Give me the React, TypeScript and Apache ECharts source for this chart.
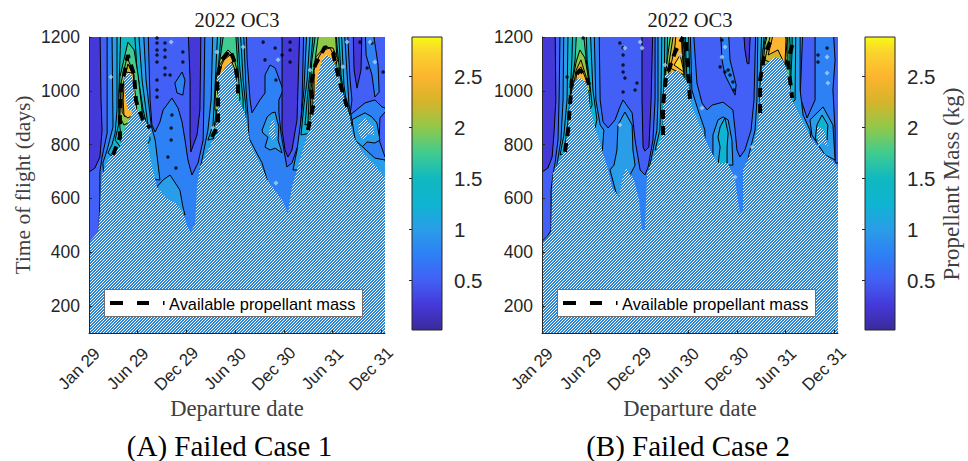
import React, { useEffect, useRef } from "react";
import * as echarts from "echarts";

type P = number[][];

const X_TICKS = [0, 182.6, 365.2, 547.8, 730.4, 913, 1095.6];
const X_LABELS = ["Jan 29", "Jun 29", "Dec 29", "Jun 30", "Dec 30", "Jun 31", "Dec 31"];
const Y_TICKS = [200, 400, 600, 800, 1000, 1200];
const CB_TICKS = [0.5, 1, 1.5, 2, 2.5];
const CB_VALUES = [0.01, 0.25, 0.5, 0.75, 1, 1.25, 1.5, 1.75, 2, 2.25, 2.5, 2.75, 2.89];
const CB_COLORS = ["#3a2a9a", "#4538d8", "#4260f5", "#2e80f5", "#2a9de8", "#0fb4d2", "#10b8c0", "#40cc90", "#90c84a", "#d5b42a", "#fdb42f", "#fad52d", "#f8fa14"];

const DARK = 0.25, MID = 0.5, BLUE = 0.75, LIGHT = 1, CYAN = 1.25, TEAL = 1.5, GREEN = 1.75, OLIVE = 2, GOLD = 2.25, ORANGE = 2.5, YELLOW = 2.75;
const HATCH = -1;

const BASE: P = [[-20, 1250], [1140, 1250], [1140, 40], [-20, 40]];

// Panel A: regions in [departure day, time of flight]
const A_HATCH: P = [[-15,435],[0,435],[34,475],[41,557],[45,631],[49,687],[71,743],[90,762],[116,791],[128,843],[150,892],[165,925],[146,929],[135,984],[131,1048],[146,1066],[161,1059],[169,1003],[172,936],[184,929],[203,899],[221,873],[236,843],[218,817],[229,754],[240,706],[255,643],[292,598],[322,587],[352,550],[368,501],[379,475],[398,501],[405,643],[416,717],[461,810],[484,847],[476,866],[484,929],[484,1022],[480,1051],[499,1070],[518,1096],[529,1107],[540,1089],[555,1029],[559,973],[585,918],[596,854],[604,806],[641,732],[668,669],[724,594],[746,546],[761,643],[791,743],[821,843],[836,918],[848,992],[859,1059],[874,1115],[892,1133],[915,1115],[930,1077],[941,1029],[960,966],[971,921],[979,903],[986,843],[1009,799],[1028,769],[1072,724],[1110,676],[1129,676],[1129,50],[-15,50]];
const A_M1: P = [[-15,1250],[68,1250],[68,843],[49,754],[41,698],[41,594],[37,475],[4,427],[-15,427]];
const A_D1: P = [[-15,1250],[41,1250],[45,966],[49,854],[41,754],[22,713],[0,698],[-15,698]];
const A_M2: P = [[221,1250],[229,966],[236,873],[248,847],[266,884],[278,929],[311,973],[334,936],[349,884],[360,817],[371,743],[386,687],[409,732],[428,817],[431,966],[435,1250]];
const A_D2: P = [[371,1250],[379,1040],[379,836],[382,773],[405,836],[416,929],[420,1250]];
const A_M3: P = [[589,1250],[593,1115],[604,966],[611,918],[641,966],[660,992],[660,1059],[679,1096],[698,1085],[728,1003],[712,966],[712,918],[720,843],[731,780],[742,717],[761,732],[791,817],[799,966],[806,1250]];
const A_D3: P = [[724,1250],[724,854],[735,780],[746,754],[761,780],[780,892],[791,1250]];
const A_M4: P = [[968,1250],[979,1040],[986,966],[979,910],[1035,955],[1072,966],[1099,940],[1129,929],[1129,1250]];
const A_D4: P = [[990,1250],[994,1077],[1005,1010],[1020,1077],[1024,1250]];
const A_STRIP: P = [[1035,1250],[1039,1133],[1061,1059],[1072,977],[1088,995],[1084,1096],[1061,1250]];
const A_M5: P = [[1110,921],[1091,899],[1088,817],[1110,754],[1136,754],[1136,921]];
const A_RING: P = [[322,1029],[349,1070],[360,1040],[352,984],[330,992]];
const A_BLOB1: P = [[304,687],[278,669],[255,643],[266,594],[360,539],[352,569],[341,631]];
const A_BLOB2: P = [[585,854],[623,780],[649,732],[668,669],[640,700],[590,800]];
const A_BLOB3: P = [[668,903],[686,918],[698,921],[705,892],[712,866],[709,817],[724,769],[698,787],[679,780],[660,791],[671,828],[652,843],[649,854]];
const A_BLOB4: P = [[986,892],[1005,903],[1035,918],[1061,903],[1080,880],[1091,817],[1072,806],[1043,810],[1024,791],[998,817],[990,847]];
const A_BLOB5: P = [[998,817],[1072,750],[1110,743],[1129,650],[1035,706]];
const A_PATCH1: P = [[679,873],[690,895],[700,870],[694,850],[705,830],[690,815],[675,840]];
const A_PATCH2: P = [[1012,880],[1035,900],[1050,880],[1065,870],[1070,835],[1045,840],[1030,815],[1010,840]];
const A_P1L: P = [[86,1250],[90,866],[68,780],[52,732],[56,680],[266,669],[248,817],[233,873],[214,1040],[203,1250]];
const A_P1C: P = [[105,1250],[105,929],[98,843],[86,799],[71,769],[154,706],[229,817],[221,873],[199,1040],[184,1250]];
const A_P1T: P = [[120,1250],[112,992],[112,880],[98,817],[154,743],[221,854],[203,929],[180,1077],[169,1250]];
const A_P1G: P = [[146,1181],[116,1051],[112,966],[116,866],[124,780],[191,854],[203,892],[184,1059],[169,1152]];
const A_P1Y: P = [[143,1126],[120,1029],[116,903],[131,873],[172,892],[169,1059]];
const A_P1O: P = [[146,1100],[124,1003],[124,921],[135,903],[172,921],[165,1059]];
const A_P1R: P = [[135,1070],[128,966],[131,910],[146,899],[180,921],[172,1003],[165,1066]];
const A_P2L: P = [[465,1250],[458,966],[446,854],[431,780],[416,706],[604,706],[596,910],[589,1003],[578,1250]];
const A_P2C: P = [[484,1250],[472,1003],[465,873],[446,817],[585,854],[589,929],[578,1040],[566,1250]];
const A_P2T: P = [[499,1250],[484,1077],[476,910],[465,836],[578,892],[578,966],[566,1077],[555,1250]];
const A_P2G: P = [[510,1250],[491,1115],[480,1003],[476,873],[566,966],[559,1077],[548,1250]];
const A_P2Y: P = [[521,1152],[491,1115],[476,1040],[472,929],[548,929],[555,1077],[540,1133]];
const A_P2O: P = [[521,1144],[488,1092],[476,1040],[484,984],[536,1003],[548,1077]];
const A_P2R: P = [[484,1066],[506,1115],[529,1133],[544,1115],[529,1100],[499,1065],[484,1040]];
const A_P3L: P = [[818,1250],[806,1003],[795,892],[780,780],[765,706],[1016,706],[986,892],[975,947],[956,1250]];
const A_P3C: P = [[832,1250],[818,1040],[806,947],[795,836],[986,873],[964,966],[956,1022],[945,1250]];
const A_P3T: P = [[844,1250],[829,1077],[818,966],[810,873],[979,910],[956,984],[945,1059],[934,1250]];
const A_P3G: P = [[855,1250],[836,1115],[825,966],[821,873],[960,947],[941,1059],[922,1250]];
const A_P3Y: P = [[866,1250],[848,1115],[832,1003],[829,892],[904,966],[930,1115],[922,1250]];
const A_P3O: P = [[885,1163],[851,1126],[840,1040],[836,940],[885,1059],[934,1115],[915,1159]];
const A_P3R: P = [[844,966],[844,1077],[862,1126],[878,1152],[904,1159],[926,1115],[874,1077],[859,984]];
const A_AVAILABLE: (number[] | null[])[] = [[90,762],[116,828],[116,903],[120,1003],[146,1133],[169,1059],[176,966],[184,936],[203,892],[229,862],[null,null],[461,828],[484,873],[484,966],[480,1051],[499,1115],[529,1152],[548,1103],[559,1029],[559,973],[null,null],[821,854],[840,940],[832,1022],[848,1096],[885,1163],[915,1141],[941,1029],[968,940]];
const A_SPOTS: P = [[255,1196],[255,1178],[255,1152],[255,1133],[255,1107],[255,1040],[285,1178],[285,1152],[285,1126],[285,1085],[285,1060],[255,1003],[255,977],[304,1059],[311,910],[308,862],[308,817],[296,754],[326,713],[352,1144],[352,1107],[653,1181],[660,1115],[698,1159],[724,1133],[754,1181],[754,1152],[754,1107],[701,1040],[1043,1085],[1061,1178],[1016,1181],[1103,1070]];
const A_SPECKS: P = [[308,1181],[82,1051],[172,1010],[480,1144],[578,1163],[709,1115],[952,1089],[968,1181],[1072,1107],[1054,1181],[701,657],[829,1077],[465,862]];

// Panel B
const B_HATCH: P = [[-15,435],[0,435],[34,472],[41,695],[86,780],[98,866],[105,966],[124,1040],[142,1048],[169,1029],[180,940],[199,866],[248,706],[262,643],[289,605],[300,669],[315,713],[345,669],[364,594],[375,483],[386,483],[394,695],[454,843],[454,940],[461,1059],[510,1077],[548,1029],[562,940],[592,873],[630,780],[660,732],[698,732],[724,669],[742,546],[754,550],[754,706],[791,791],[810,866],[825,1089],[874,1126],[904,1115],[922,1066],[938,966],[968,903],[1005,828],[1054,769],[1099,732],[1110,706],[1125,706],[1125,50],[-15,50]];
const B_M1: P = [[-15,1250],[68,1250],[64,966],[60,817],[49,732],[41,687],[34,631],[34,483],[22,461],[-15,427]];
const B_D1: P = [[-15,1250],[49,1250],[52,966],[45,843],[38,754],[22,713],[0,698],[-15,698]];
const B_M2: P = [[214,1250],[218,966],[229,884],[248,862],[274,892],[292,940],[304,966],[338,918],[349,817],[368,706],[386,687],[398,717],[416,817],[424,966],[424,1250]];
const B_D2: P = [[375,1250],[375,966],[379,791],[386,776],[401,791],[409,966],[416,1250]];
const B_BLOB1: P = [[311,921],[285,873],[281,780],[270,724],[255,706],[285,594],[330,687],[349,724],[341,780],[338,873]];
const B_M3: P = [[566,1250],[581,1029],[600,955],[619,929],[638,947],[679,958],[716,929],[724,854],[731,780],[742,754],[761,780],[784,854],[795,966],[802,1250]];
const B_D3: P = [[754,1250],[761,1152],[769,1103],[776,1100],[780,1189],[784,1250]];
const B_STRIP: P = [[668,1250],[675,1115],[686,1059],[724,984],[728,1022],[705,1115],[698,1250]];
const B_BLOB2: P = [[641,754],[641,836],[660,892],[679,903],[698,892],[712,817],[716,724],[641,724]];
const B_TEAL1: P = [[668,866],[686,899],[698,843],[694,791],[694,724],[660,724],[668,791],[660,828]];
const B_M4: P = [[979,1250],[968,977],[994,899],[1024,966],[1024,1250]];
const B_BLOB3: P = [[1005,892],[1054,940],[1091,873],[1099,743],[1061,762],[1012,836]];
const B_TEAL2: P = [[1050,910],[1031,873],[1024,817],[1069,817],[1072,873]];
const B_PATCH: P = [[1031,866],[1048,862],[1061,850],[1072,791],[1050,810],[1035,791]];
const B_M5: P = [[1091,1250],[1099,1115],[1091,1003],[1099,854],[1099,732],[1125,732],[1125,1250]];
const B_P1L: P = [[82,1250],[79,966],[71,817],[56,724],[45,676],[218,669],[232,854],[218,873],[202,966],[195,1250]];
const B_P1C: P = [[98,1250],[94,966],[82,836],[68,762],[180,780],[206,892],[191,1003],[180,1250]];
const B_P1T: P = [[116,1250],[112,1115],[105,966],[94,854],[86,799],[161,892],[188,947],[169,1115],[165,1250]];
const B_P1G: P = [[131,1250],[124,1115],[109,1003],[101,873],[180,929],[172,1059],[158,1189],[154,1250]];
const B_P1Y: P = [[142,1152],[128,1107],[112,1022],[105,892],[131,966],[180,1003],[169,1077],[161,1122]];
const B_P1O: P = [[146,1115],[128,1077],[116,1003],[109,947],[161,1022],[169,1040]];
const B_P1R: P = [[146,1089],[131,1070],[124,1022],[158,1033],[169,1033]];
const B_P2L: P = [[435,1250],[435,966],[431,854],[405,724],[394,676],[611,669],[611,854],[585,929],[562,1003],[555,1250]];
const B_P2C: P = [[450,1250],[446,966],[442,854],[424,780],[555,854],[555,1040],[548,1250]];
const B_P2T: P = [[461,1250],[458,1003],[454,873],[518,892],[548,966],[540,1115],[536,1250]];
const B_P2G: P = [[472,1250],[469,1115],[458,1040],[454,910],[536,1003],[536,1115],[529,1250]];
const B_P2Y: P = [[488,1250],[472,1133],[461,1040],[480,966],[532,1022],[532,1152],[525,1250]];
const B_P2O: P = [[499,1250],[484,1152],[472,1077],[488,1022],[532,1077],[525,1189],[521,1250]];
const B_P2R: P = [[506,1250],[499,1170],[488,1115],[480,1085],[532,1059],[525,1152],[521,1250]];
const B_P2W: P = [[518,1133],[495,1096],[532,1070]];
const B_P3L: P = [[810,1250],[806,966],[799,854],[780,780],[761,698],[1012,780],[1005,854],[979,910],[968,1003],[968,1250]];
const B_P3C: P = [[825,1250],[818,1040],[814,854],[949,966],[952,1250]];
const B_P3T: P = [[836,1250],[825,1096],[821,947],[930,984],[938,1152],[938,1250]];
const B_P3G: P = [[848,1250],[829,1152],[821,1022],[930,1003],[930,1170],[926,1250]];
const B_P3Y: P = [[855,1250],[836,1170],[829,1096],[922,1115],[922,1250]];
const B_P3O: P = [[866,1250],[848,1170],[836,1115],[911,1077],[919,1189],[915,1250]];
const B_P3R: P = [[874,1250],[862,1189],[848,1133],[885,1152],[911,1096],[915,1189],[908,1250]];
const B_AVAILABLE: (number[] | null[])[] = [[86,773],[98,854],[105,947],[112,1040],[142,1077],[169,1051],[176,1022],[null,null],[454,836],[454,947],[465,1048],[499,1144],[529,1200],[null,null],[540,1181],[548,1077],[555,966],[null,null],[818,918],[818,1040],[832,1126],[855,1181],[null,null],[938,1170],[922,1107],[930,1040],[938,973]];
const B_SPOTS: P = [[356,1029],[304,996],[311,1048],[349,1003],[292,1178],[304,1133],[304,1096],[304,1160],[304,1070],[154,1196],[94,1051],[668,1089],[686,1070],[705,1059],[716,1033],[698,1077],[720,1003],[1035,1133],[1035,1107],[675,1189],[1069,1159]];
const B_SPECKS: P = [[311,1159],[368,1181],[375,1159],[292,873],[105,977],[461,1096],[518,1133],[600,936],[675,1126],[686,1163],[1069,1066],[1072,1029],[1069,1126],[788,791],[724,680]];

const A_LAYERS: [number, P][] = [
  [BLUE, BASE], [MID, A_M1], [DARK, A_D1], [MID, A_M2], [DARK, A_D2], [MID, A_M3], [DARK, A_D3], [MID, A_M4], [DARK, A_D4],
  [BLUE, A_STRIP], [MID, A_M5], [BLUE, A_RING], [LIGHT, A_BLOB1], [LIGHT, A_BLOB2], [LIGHT, A_BLOB3], [LIGHT, A_BLOB4], [LIGHT, A_BLOB5],
  [LIGHT, A_P1L], [CYAN, A_P1C], [TEAL, A_P1T], [GREEN, A_P1G], [OLIVE, A_P1Y], [GOLD, A_P1O], [ORANGE, A_P1R],
  [LIGHT, A_P2L], [CYAN, A_P2C], [TEAL, A_P2T], [GREEN, A_P2G], [OLIVE, A_P2Y], [GOLD, A_P2O], [ORANGE, A_P2R],
  [LIGHT, A_P3L], [CYAN, A_P3C], [TEAL, A_P3T], [GREEN, A_P3G], [OLIVE, A_P3Y], [GOLD, A_P3O], [ORANGE, A_P3R],
  [HATCH, A_PATCH1], [HATCH, A_PATCH2], [HATCH, A_HATCH],
];
const B_LAYERS: [number, P][] = [
  [BLUE, BASE], [MID, B_M1], [DARK, B_D1], [MID, B_M2], [DARK, B_D2], [MID, B_M3], [DARK, B_D3], [BLUE, B_STRIP], [MID, B_M4], [MID, B_M5],
  [LIGHT, B_BLOB1], [LIGHT, B_BLOB2], [CYAN, B_TEAL1], [LIGHT, B_BLOB3], [CYAN, B_TEAL2],
  [LIGHT, B_P1L], [CYAN, B_P1C], [TEAL, B_P1T], [GREEN, B_P1G], [OLIVE, B_P1Y], [GOLD, B_P1O], [ORANGE, B_P1R],
  [LIGHT, B_P2L], [CYAN, B_P2C], [TEAL, B_P2T], [GREEN, B_P2G], [OLIVE, B_P2Y], [GOLD, B_P2O], [ORANGE, B_P2R], [YELLOW, B_P2W],
  [LIGHT, B_P3L], [CYAN, B_P3C], [TEAL, B_P3T], [GREEN, B_P3G], [OLIVE, B_P3Y], [GOLD, B_P3O], [ORANGE, B_P3R],
  [HATCH, B_PATCH], [HATCH, B_HATCH],
];

function hexToRgb(h: string) {
  return [1, 3, 5].map((i) => parseInt(h.slice(i, i + 2), 16));
}
function levelColor(v: number) {
  let i = 0;
  while (i < CB_VALUES.length - 2 && v > CB_VALUES[i + 1]) i++;
  const t = (v - CB_VALUES[i]) / (CB_VALUES[i + 1] - CB_VALUES[i]);
  const a = hexToRgb(CB_COLORS[i]);
  const b = hexToRgb(CB_COLORS[i + 1]);
  return `rgb(${a.map((c, k) => Math.round(c + (b[k] - c) * t)).join(",")})`;
}

const AXIS_COLOR = "#262626";
const SANS = "Liberation Sans";
const SERIF = "Liberation Serif";

export default function App() {
  const ref = useRef<HTMLDivElement>(null);
  useEffect(() => {
    if (!ref.current) return;
    const chart = echarts.init(ref.current, undefined, { renderer: "svg" });

    const cv = document.createElement("canvas");
    cv.width = 3;
    cv.height = 3;
    const ctx = cv.getContext("2d")!;
    for (let i = 0; i < 3; i++) {
      for (let j = 0; j < 3; j++) {
        ctx.fillStyle = (i + j) % 3 === 0 ? "#ffffff" : "#2a86d2";
        ctx.fillRect(i, j, 1, 1);
      }
    }
    const hatchFill = { image: cv, repeat: "repeat", imageWidth: 3, imageHeight: 3 };

    const contourSeries = (layers: [number, P][], idx: number) => ({
      type: "custom",
      xAxisIndex: idx,
      yAxisIndex: idx,
      clip: true,
      z: 2,
      silent: true,
      data: layers.map((_, i) => [i, 0]),
      renderItem: (params: any, api: any) => {
        const [level, pts] = layers[params.dataIndex];
        const points = pts.map((p) => api.coord(p));
        return {
          type: "polygon",
          shape: { points },
          style: level === HATCH
            ? { fill: hatchFill, stroke: null }
            : { fill: levelColor(level), stroke: "#000", lineWidth: 1, lineJoin: "round" },
        };
      },
    });
    const availableSeries = (d: any[], idx: number) => ({
      type: "line",
      xAxisIndex: idx,
      yAxisIndex: idx,
      data: d,
      z: 4,
      showSymbol: false,
      connectNulls: false,
      clip: true,
      silent: true,
      lineStyle: { color: "#000", width: 4, type: [9, 7] },
    });
    const scatterSeries = (d: P, idx: number, color: string, symbol: string, size: number) => ({
      type: "scatter",
      xAxisIndex: idx,
      yAxisIndex: idx,
      data: d,
      z: 3,
      symbol,
      symbolSize: size,
      silent: true,
      itemStyle: { color },
    });
    const colorbarSeries = (idx: number) => ({
      type: "custom",
      xAxisIndex: idx,
      yAxisIndex: idx,
      z: 2,
      silent: true,
      data: [[0, CB_VALUES[0]]],
      renderItem: (_: any, api: any) => {
        const lo = CB_VALUES[0];
        const hi = CB_VALUES[CB_VALUES.length - 1];
        const a = api.coord([0, hi]);
        const b = api.coord([1, lo]);
        return {
          type: "rect",
          shape: { x: a[0], y: a[1], width: b[0] - a[0], height: b[1] - a[1] },
          style: {
            stroke: AXIS_COLOR,
            lineWidth: 1,
            fill: new echarts.graphic.LinearGradient(0, 1, 0, 0, CB_VALUES.map((v, i) => ({ offset: (v - lo) / (hi - lo), color: CB_COLORS[i] }))),
          },
        };
      },
    });

    const grids = [
      { left: 89, top: 37, width: 296, height: 296 },
      { left: 542, top: 37, width: 296, height: 296 },
      { left: 412, top: 37, width: 30, height: 293 },
      { left: 865, top: 37, width: 30, height: 293 },
    ];
    const mainX = (gridIndex: number) => ({
      type: "value", gridIndex, min: 0, max: 1110, z: 10, splitLine: { show: false },
      axisLine: { show: true, onZero: false, lineStyle: { color: AXIS_COLOR, width: 1 } },
      axisTick: { show: true, inside: true, length: 3, customValues: X_TICKS, lineStyle: { color: AXIS_COLOR } },
      axisLabel: {
        show: true, customValues: X_TICKS, rotate: 45, margin: 26, color: AXIS_COLOR, fontSize: 17, fontFamily: SANS,
        align: "center", verticalAlign: "middle", padding: [0, 28, 0, 0],
        formatter: (v: number) => X_LABELS[Math.round(v / 182.6)] ?? "",
      },
    });
    const mainY = (gridIndex: number) => ({
      type: "value", gridIndex, min: 100, max: 1200, z: 10, splitLine: { show: false },
      axisLine: { show: true, onZero: false, lineStyle: { color: AXIS_COLOR, width: 1 } },
      axisTick: { show: true, inside: true, length: 3, customValues: Y_TICKS, lineStyle: { color: AXIS_COLOR } },
      axisLabel: { show: true, customValues: Y_TICKS, margin: 9, color: AXIS_COLOR, fontSize: 17.5, fontFamily: SANS, formatter: (v: number) => String(v) },
    });
    const cbX = (gridIndex: number) => ({
      type: "value", gridIndex, min: 0, max: 1, show: false,
    });
    const cbY = (gridIndex: number) => ({
      type: "value", gridIndex, position: "right", min: CB_VALUES[0], max: CB_VALUES[CB_VALUES.length - 1], z: 10,
      splitLine: { show: false }, axisLine: { show: false },
      axisTick: { show: true, inside: true, length: 3, customValues: CB_TICKS, lineStyle: { color: AXIS_COLOR } },
      axisLabel: { show: true, customValues: CB_TICKS, margin: 12, color: AXIS_COLOR, fontSize: 20.5, fontFamily: SANS, formatter: (v: number) => String(v) },
    });

    const legendGroup = (dx: number) => [
      { type: "rect", z: 100, shape: { x: 104.5 + dx, y: 289.5, width: 258, height: 27 }, style: { fill: "#fff", stroke: "#6e6e6e", lineWidth: 1 } },
      { type: "line", z: 101, shape: { x1: 110 + dx, y1: 303, x2: 123 + dx, y2: 303 }, style: { stroke: "#000", lineWidth: 4 } },
      { type: "line", z: 101, shape: { x1: 137 + dx, y1: 303, x2: 149 + dx, y2: 303 }, style: { stroke: "#000", lineWidth: 4 } },
      { type: "line", z: 101, shape: { x1: 163 + dx, y1: 303, x2: 164.5 + dx, y2: 303 }, style: { stroke: "#000", lineWidth: 4 } },
      { type: "text", z: 101, x: 169 + dx, y: 304, style: { text: "Available propellant mass", fill: "#000", font: `16.4px '${SANS}'`, textAlign: "left", textVerticalAlign: "middle" } },
    ];
    const label = (text: string, x: number, y: number, size: number, fill: string, rotation = 0) => ({
      type: "text", z: 100, x, y, rotation,
      style: { text, fill, font: `${size}px '${SERIF}'`, textAlign: "center", textVerticalAlign: "middle" },
    });

    chart.setOption({
      animation: false,
      grid: grids,
      xAxis: [mainX(0), mainX(1), cbX(2), cbX(3)],
      yAxis: [mainY(0), mainY(1), cbY(2), cbY(3)],
      series: [
        contourSeries(A_LAYERS, 0),
        contourSeries(B_LAYERS, 1),
        availableSeries(A_AVAILABLE, 0),
        availableSeries(B_AVAILABLE, 1),
        scatterSeries(A_SPOTS, 0, "#000", "circle", 3.5),
        scatterSeries(B_SPOTS, 1, "#000", "circle", 3.5),
        scatterSeries(A_SPECKS, 0, "#a9d3f0", "diamond", 5),
        scatterSeries(B_SPECKS, 1, "#a9d3f0", "diamond", 5),
        colorbarSeries(2),
        colorbarSeries(3),
      ],
      graphic: [
        ...legendGroup(0),
        ...legendGroup(453),
        label("2022 OC3", 237, 20, 20.5, "#1a1a1a"),
        label("2022 OC3", 690, 20, 20.5, "#1a1a1a"),
        label("Departure date", 237, 408, 22.6, "#404040"),
        label("Departure date", 690, 408, 22.6, "#404040"),
        label("Time of flight (days)", 23, 185, 21.5, "#404040", Math.PI / 2),
        label("Propellant Mass (kg)", 951, 184, 23, "#404040", Math.PI / 2),
        label("(A) Failed Case 1", 229.5, 446, 29, "#000"),
        label("(B) Failed Case 2", 688, 446, 29, "#000"),
      ],
    });
    return () => chart.dispose();
  }, []);
  return <div ref={ref} style={{ position: "absolute", left: 0, top: 0, width: 968, height: 461, background: "#fff" }} />;
}
